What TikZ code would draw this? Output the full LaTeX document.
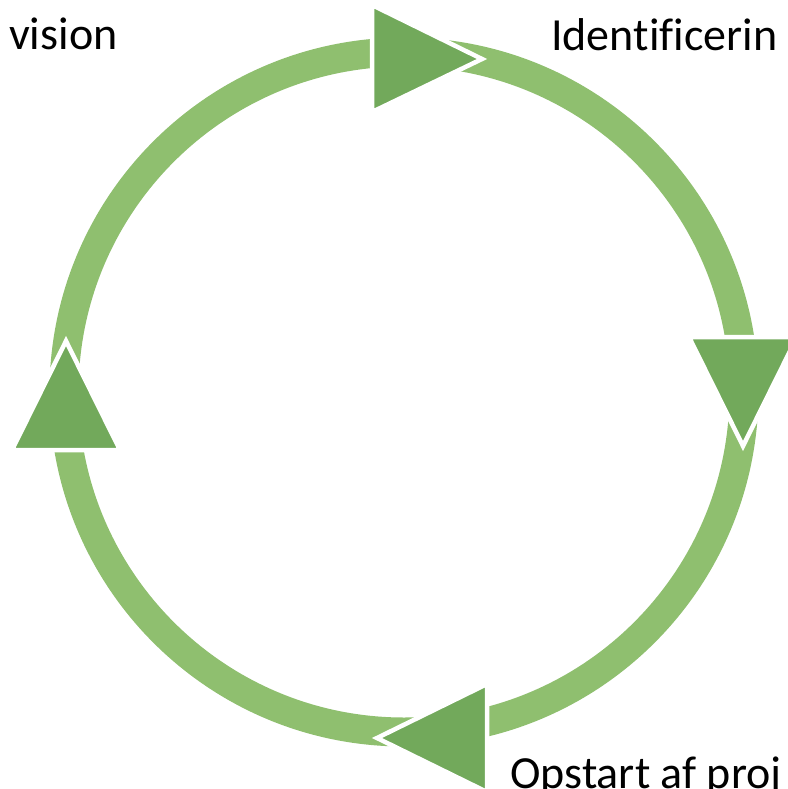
\documentclass[tikz,border=0pt]{standalone}
\usepackage{fontspec}
\setmainfont{Carlito}[Ligatures=NoCommon]
\definecolor{ringgreen}{RGB}{143,191,111}
\definecolor{trigreen}{RGB}{114,169,91}
\begin{document}
\begin{tikzpicture}[x=1pt,y=-1pt,
  ring/.style={draw=ringgreen,line width=29pt},
  arrowhead/.style={fill=trigreen,draw=white,line width=4.5pt,line join=miter},
  label/.style={anchor=base west,inner sep=0pt,font=\fontsize{46}{56}\selectfont}]
\useasboundingbox (0,0) rectangle (787,789);
\coordinate (c) at (404,392);
\draw[ring] (c) circle (340pt);
% arrowheads
\draw[arrowhead] (372,5) -- (372,112) -- (482,59) -- cycle;
\draw[arrowhead] (689,337) -- (797,337) -- (743,446) -- cycle;
\draw[arrowhead] (487,684) -- (487,792) -- (377,738) -- cycle;
\draw[arrowhead] (12,450) -- (120,450) -- (66,341) -- cycle;
% labels
\node[label] (vision) at (9,50) {vision};
\node[label] (ident) at (551,51) {Identificerin};
\node[label] (opstart) at (510,788) {Opstart af proj};
\end{tikzpicture}
\end{document}
